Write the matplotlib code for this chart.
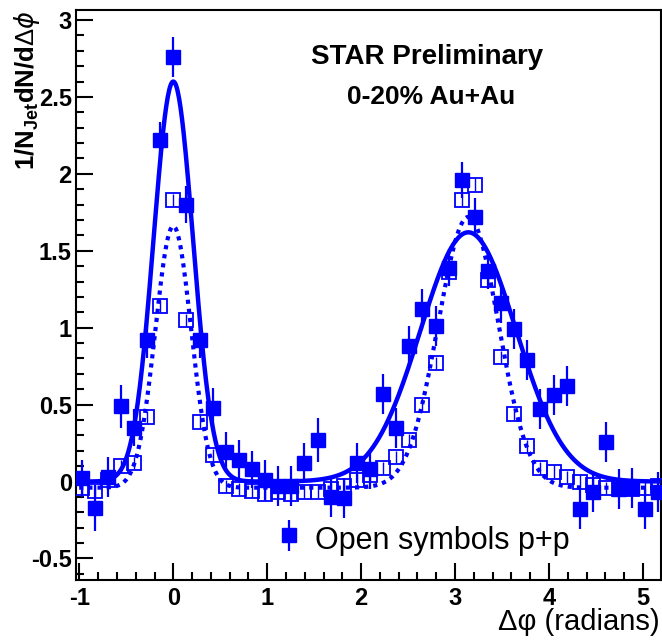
import numpy as np
import matplotlib
matplotlib.use('Agg')
import matplotlib.pyplot as plt

plt.rcParams['font.family'] = ['Liberation Sans', 'DejaVu Sans']
plt.rcParams['mathtext.fontset'] = 'custom'
plt.rcParams['mathtext.rm'] = 'Liberation Sans'
plt.rcParams['mathtext.bf'] = 'Liberation Sans:bold'

#========== data ==========
# bin centres, 45 bins of 2pi/45 starting at -pi/3
dphi = np.arange(-7, 38) * (2 * np.pi / 45)

# 0-20% Au+Au (filled)
auau = [0.02, -0.17, 0.03, 0.49, 0.35, 0.92, 2.22, 2.76, 1.80, 0.92,
        0.48, 0.19, 0.14, 0.08, 0.01, -0.03, -0.03, 0.12, 0.27, -0.10,
        -0.11, 0.12, 0.08, 0.57, 0.35, 0.88, 1.12, 1.01, 1.39, 1.96,
        1.72, 1.37, 1.16, 0.99, 0.79, 0.47, 0.56, 0.62, -0.18, -0.07,
        0.26, -0.05, -0.04, -0.18, -0.07]
auau_err = [0.12, 0.15, 0.13, 0.14, 0.12, 0.12, 0.12, 0.13, 0.12, 0.12,
            0.13, 0.13, 0.13, 0.12, 0.13, 0.13, 0.13, 0.13, 0.14, 0.13,
            0.13, 0.13, 0.13, 0.13, 0.13, 0.13, 0.13, 0.13, 0.12, 0.12,
            0.12, 0.12, 0.13, 0.13, 0.13, 0.13, 0.13, 0.13, 0.13, 0.13,
            0.13, 0.13, 0.13, 0.13, 0.13]

# p+p (open)
pp = [-0.04, -0.06, 0.01, 0.10, 0.12, 0.42, 1.14, 1.83, 1.05, 0.39,
      0.17, -0.03, -0.05, -0.06, -0.08, -0.07, -0.08, -0.065, -0.065, -0.05,
      -0.03, 0.01, 0.04, 0.09, 0.16, 0.27, 0.50, 0.77, 1.36, 1.83,
      1.93, 1.31, 0.81, 0.44, 0.23, 0.09, 0.065, 0.03, 0.0, -0.02,
      -0.04, -0.05, -0.05, -0.04, -0.03]
pp_err = [0.04] * len(pp)

# fit parameters: baseline, near amp, near sigma, away amp, away sigma
fit_auau = [0.0, 2.60, 0.21, 1.62, 0.51]
fit_pp = [-0.04, 1.70, 0.19, 1.76, 0.32]

x_ticks = [-1, 0, 1, 2, 3, 4, 5]
y_ticks = [-0.5, 0, 0.5, 1, 1.5, 2, 2.5, 3]


def two_gaus(x, p):
    b, a1, s1, a2, s2 = p
    y = b
    for sh in [-2 * np.pi, 0, 2 * np.pi]:
        y = y + a1 * np.exp(-0.5 * ((x - sh) / s1) ** 2)
        y = y + a2 * np.exp(-0.5 * ((x - np.pi - sh) / s2) ** 2)
    return y


blue = '#0000ff'
fig = plt.figure(figsize=(6.62, 6.42), dpi=100)
ax = fig.add_axes([76 / 662, 1 - 580 / 642, 584.7 / 662, 570 / 642])

eb = ax.errorbar(dphi, auau, yerr=auau_err, fmt='s', color=blue, ms=10,
                 elinewidth=1.6, capsize=0, zorder=3,
                 label='Open symbols p+p')
ax.errorbar(dphi, pp, yerr=pp_err, fmt='s', mfc='none', mec=blue, ms=10.5,
            mew=1.3, ecolor=blue, elinewidth=1.0, capsize=0, zorder=3)

xf = np.linspace(-1.1, 5.3, 800)
ax.plot(xf, two_gaus(xf, fit_auau), color=blue, lw=3.2, zorder=4)
ax.plot(xf, two_gaus(xf, fit_pp), color=blue, lw=3.0,
        linestyle=(0, (1, 1.2)), dash_capstyle='butt', zorder=4)

ax.set_xlim(-1.036, 5.19)
ax.set_ylim(-0.64, 3.065)
ax.set_xticks(x_ticks)
ax.set_yticks(y_ticks)
ax.set_xticklabels([str(t) for t in x_ticks])
ax.set_yticklabels(['-0.5', '0', '0.5', '1', '1.5', '2', '2.5', '3'])
ax.set_xticks(np.arange(-1, 5.2, 0.2), minor=True)
ax.set_yticks(np.arange(-0.6, 3.05, 0.1), minor=True)
ax.tick_params(which='both', direction='in', top=False, right=False,
               width=1.5, labelsize=17)
ax.tick_params(which='major', length=12)
ax.tick_params(which='minor', length=6)
ax.tick_params(axis='x', pad=5)
ax.tick_params(axis='y', pad=3)
for lab in ax.get_xticklabels() + ax.get_yticklabels():
    lab.set_fontweight('bold')
for sp in ax.spines.values():
    sp.set_linewidth(1.5)

ax.text(0.600, 0.905, 'STAR Preliminary', transform=ax.transAxes,
        ha='center', va='baseline', fontsize=20, fontweight='bold')
ax.text(0.608, 0.835, '0-20% Au+Au', transform=ax.transAxes,
        ha='center', va='baseline', fontsize=19, fontweight='bold')

leg = ax.legend(handles=[eb], loc='center left',
                bbox_to_anchor=(0.302, 0.072), frameon=False, fontsize=22,
                handlelength=0.6, handletextpad=0.55, handleheight=1.3)

fig.text(27 / 662, 1 - 10 / 642, r'1/N$_{\mathbf{Jet}}$dN/d$\Delta\phi$',
         rotation=90, ha='center', va='top', fontsize=18.5, fontweight='bold')
fig.text(660 / 662, 1 - 622 / 642, 'Δφ (radians)', ha='right',
         va='center', fontsize=21)

plt.savefig('out.png', dpi=100)
